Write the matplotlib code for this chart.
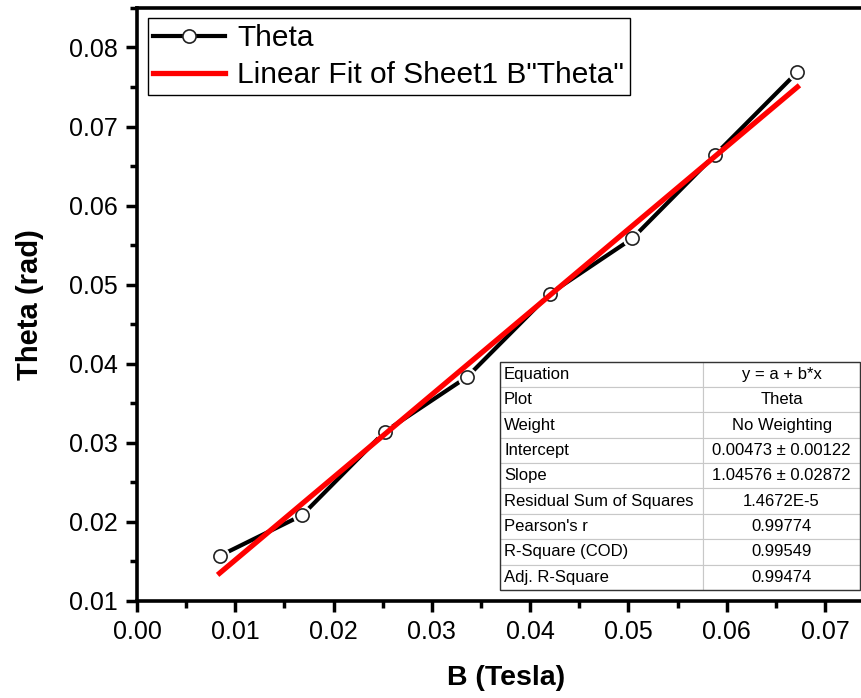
import matplotlib.pyplot as plt
import numpy as np

plt.rcParams['font.family'] = ['Liberation Sans', 'DejaVu Sans']

# Messdaten
b_tesla = [0.0084, 0.0168, 0.0252, 0.0336, 0.0420, 0.0504, 0.0588, 0.0672]
theta = [0.01570, 0.02085, 0.03140, 0.03835, 0.04885, 0.05585, 0.06640, 0.07690]

# Fit-Ergebnisse
intercept = 0.00473
slope = 1.04576

table_labels = ['Equation', 'Plot', 'Weight', 'Intercept', 'Slope',
                'Residual Sum of Squares', "Pearson's r", 'R-Square (COD)',
                'Adj. R-Square']
table_values = ['y = a + b*x', 'Theta', 'No Weighting', '0.00473 \u00b1 0.00122',
                '1.04576 \u00b1 0.02872', '1.4672E-5', '0.99774', '0.99549',
                '0.99474']

fig = plt.figure(figsize=(8.62, 6.98), dpi=100)
ax = fig.add_axes([0.159, 0.139, 0.855, 0.8496])

x = np.array(b_tesla)
y = np.array(theta)

# Messkurve mit offenen Kreisen (weisser Rand als Luecke)
ax.plot(x, y, color='black', lw=3, zorder=2)
ax.plot(x, y, ls='none', marker='o', ms=13, mfc='white', mec='white', zorder=3)
ax.plot(x, y, ls='none', marker='o', ms=9.5, mfc='white', mec='#222222', mew=1.2, zorder=4)

# Fitgerade
xf = np.array([x.min(), x.max()])
ax.plot(xf, intercept + slope * xf, color='red', lw=3.8, zorder=5)

# Legende
h1, = ax.plot([], [], color='black', lw=3, marker='o', ms=9.5, mfc='white', mec='#222222', mew=1.2)
h2, = ax.plot([], [], color='red', lw=3.8)
leg = ax.legend([h1, h2], ['Theta', 'Linear Fit of Sheet1 B"Theta"'], loc='upper left',
                fontsize=21.5, handlelength=2.4, numpoints=1, fancybox=False, framealpha=1,
                edgecolor='black', borderpad=0.2, labelspacing=0.3, handletextpad=0.4,
                borderaxespad=0.35)
leg.get_frame().set_linewidth(1.0)

ax.set_xlim(0, 0.075)
ax.set_ylim(0.01, 0.085)
ax.set_xticks(np.arange(0, 0.0751, 0.01))
ax.set_xticks(np.arange(0.005, 0.0751, 0.01), minor=True)
ax.set_yticks(np.arange(0.01, 0.0801, 0.01))
ax.set_yticks(np.arange(0.015, 0.0851, 0.01), minor=True)
ax.set_xticklabels(['%.2f' % v for v in np.arange(0, 0.0751, 0.01)])
ax.set_yticklabels(['%.2f' % v for v in np.arange(0.01, 0.0801, 0.01)])

ax.tick_params(which='major', direction='out', length=8, width=2.5, labelsize=18, pad=6)
ax.tick_params(which='minor', direction='out', length=5, width=2.5)
for s in ax.spines.values():
    s.set_linewidth(2.6)

ax.set_xlabel('B (Tesla)', fontsize=20.5, fontweight='bold', labelpad=15)
ax.set_ylabel('Theta (rad)', fontsize=21, fontweight='bold', labelpad=18)

# Tabelle mit Fitparametern
rows = [[a, b] for a, b in zip(table_labels, table_values)]
tab = ax.table(cellText=rows, colWidths=[0.564, 0.436], cellLoc='center',
               bbox=[0.4925, 0.0186, 0.4885, 0.385], zorder=6)
tab.auto_set_font_size(False)
tab.set_fontsize(12)
for (r, c), cell in tab.get_celld().items():
    cell.set_edgecolor('#c8c8c8')
    cell.set_linewidth(0.8)
    cell.set_facecolor('white')
    if c == 0:
        cell.get_text().set_ha('left')
        cell.PAD = 0.02
ax.add_patch(plt.Rectangle((0.4925, 0.0186), 0.4885, 0.385, transform=ax.transAxes,
                           fill=False, edgecolor='#333333', lw=1.0, zorder=7))

plt.savefig('out.png', dpi=100)
plt.close()
